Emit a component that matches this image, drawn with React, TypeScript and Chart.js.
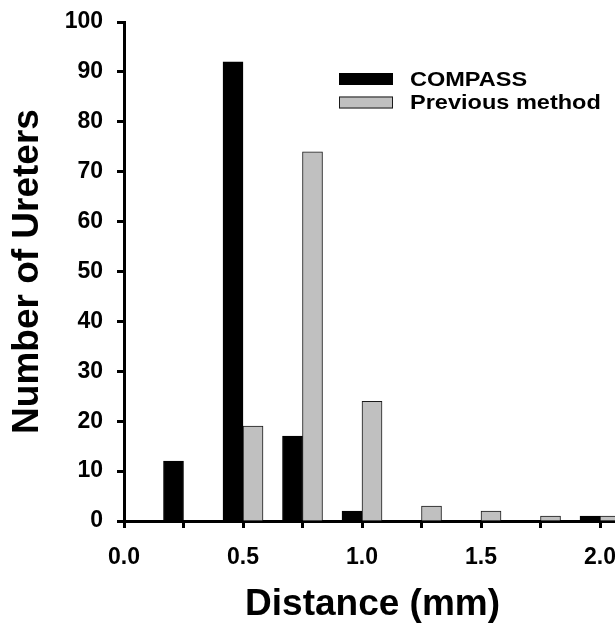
import React, { useEffect, useRef } from 'react';
import { Chart, registerables } from 'chart.js';

Chart.register(...registerables);

// ---- data ----
const distances = [0.25, 0.5, 0.75, 1.0, 1.25, 1.5, 1.75, 2.0];
const compass = [12, 92, 17, 2, 0, 0, 0, 1];
const previousMethod = [0, 19, 74, 24, 3, 2, 1, 1];
const seriesLabels = ['COMPASS', 'Previous method'];
const xTickLabels = ['0.0', '0.5', '1.0', '1.5', '2.0'];
const xTitle = 'Distance (mm)';
const yTitle = 'Number of Ureters';

const FONT = "'Liberation Sans', Arial, Helvetica, sans-serif";

const insetLegend = {
  id: 'insetLegend',
  afterDraw(chart: any) {
    const ctx = chart.ctx;
    ctx.save();
    const x0 = 339;
    const boxW = 54;
    const boxH = 12;
    const rows = [73, 96.5];
    chart.data.datasets.forEach((ds: any, i: number) => {
      const y = rows[i];
      ctx.fillStyle = ds.backgroundColor;
      ctx.fillRect(x0, y, boxW, boxH);
      ctx.strokeStyle = ds.borderColor;
      ctx.lineWidth = 1;
      ctx.strokeRect(x0 + 0.5, y + 0.5, boxW - 1, boxH - 1);
      ctx.fillStyle = '#000';
      ctx.font = `bold 21px ${FONT}`;
      ctx.textAlign = 'left';
      ctx.textBaseline = 'alphabetic';
      ctx.save();
      ctx.translate(410, y + 12.5);
      ctx.scale(1.12, 1);
      ctx.fillText(ds.label, 0, 0);
      ctx.restore();
    });
    ctx.restore();
  },
};

export default function App() {
  const ref = useRef<HTMLCanvasElement | null>(null);

  useEffect(() => {
    if (!ref.current) return;
    const chart = new Chart(ref.current, {
      type: 'bar',
      data: {
        datasets: [
          {
            label: seriesLabels[0],
            data: distances.map((x, i) => ({ x, y: compass[i] })),
            backgroundColor: '#000000',
            borderColor: '#000000',
            borderWidth: 1,
            barThickness: 20,
          },
          {
            label: seriesLabels[1],
            data: distances.map((x, i) => ({ x, y: previousMethod[i] })),
            backgroundColor: '#c0c0c0',
            borderColor: '#1a1a1a',
            borderWidth: 1,
            barThickness: 20,
          },
        ],
      } as any,
      options: {
        responsive: false,
        maintainAspectRatio: false,
        animation: false,
        devicePixelRatio: 1,
        layout: { padding: { top: 22, left: 0, right: 0, bottom: 0 } },
        plugins: { legend: { display: false }, tooltip: { enabled: false } },
        scales: {
          x: {
            type: 'linear',
            min: 0,
            max: 2.0884,
            offset: false,
            afterFit: (s: any) => {
              s.height = 103;
            },
            ticks: {
              stepSize: 0.25,
              includeBounds: false,
              autoSkip: false,
              maxRotation: 0,
              minRotation: 0,
              padding: 16,
              color: '#000',
              font: { size: 23, weight: 'bold', family: FONT },
              callback: (v: any) => {
                const k = Math.round(Number(v) * 2);
                if (Math.abs(Number(v) * 2 - k) > 1e-6) return '';
                return xTickLabels[k] ?? '';
              },
            },
            grid: {
              display: true,
              drawOnChartArea: false,
              drawTicks: true,
              tickLength: 7,
              tickWidth: 3,
              tickColor: '#000',
              offset: false,
            },
            border: { display: true, color: '#000', width: 3 },
            title: {
              display: true,
              text: xTitle,
              color: '#000',
              font: { size: 37, weight: 'bold', family: FONT },
              padding: { top: 0, bottom: -3 },
            },
          },
          y: {
            min: 0,
            max: 100,
            afterFit: (s: any) => {
              s.width = 124;
            },
            ticks: {
              stepSize: 10,
              padding: 14,
              color: '#000',
              font: { size: 23, weight: 'bold', family: FONT, lineHeight: 0.6 },
            },
            grid: {
              display: true,
              drawOnChartArea: false,
              drawTicks: true,
              tickLength: 7,
              tickWidth: 3,
              tickColor: '#000',
            },
            border: { display: true, color: '#000', width: 3 },
            title: {
              display: true,
              text: yTitle,
              color: '#000',
              font: { size: 37, weight: 'bold', family: FONT },
              padding: { top: 6, bottom: 0 },
            },
          },
        },
      } as any,
      plugins: [insetLegend],
    });
    return () => chart.destroy();
  }, []);

  return (
    <div
      style={{
        position: 'fixed',
        left: 0,
        top: 0,
        width: 615,
        height: 624,
        overflow: 'hidden',
        background: '#fff',
      }}
    >
      <canvas ref={ref} width={632} height={624} style={{ display: 'block' }} />
    </div>
  );
}
